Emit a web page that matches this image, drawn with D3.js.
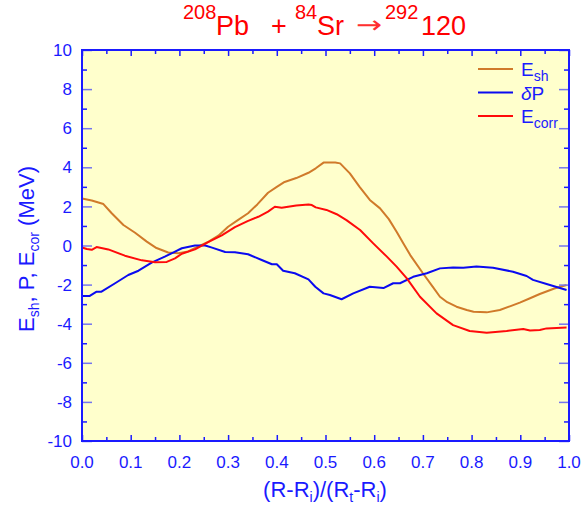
<!DOCTYPE html>
<html>
<head>
<meta charset="utf-8">
<script src="https://cdn.jsdelivr.net/npm/d3@7"></script>
<style>
    body { margin: 0; background: #ffffff; }
    svg { display: block; font-family: "Liberation Sans", Arial, sans-serif; }
</style>
</head>
<body>
<svg id="chart" width="581" height="506"></svg>
<script>
// curves: [x, MeV]
const esh_points = [
    [0, 2.4], [0.02, 2.3], [0.044, 2.12], [0.061, 1.65], [0.085, 1.05], [0.109, 0.65],
    [0.133, 0.2], [0.153, -0.13], [0.177, -0.36], [0.198, -0.4], [0.218, -0.3], [0.239, -0.05],
    [0.26, 0.2], [0.28, 0.5], [0.30, 0.96], [0.32, 1.3], [0.341, 1.65], [0.36, 2.1],
    [0.382, 2.7], [0.40, 3.0], [0.416, 3.25], [0.44, 3.45], [0.465, 3.72], [0.48, 3.95],
    [0.496, 4.24], [0.52, 4.25], [0.53, 4.2], [0.55, 3.69], [0.57, 3.0], [0.591, 2.33],
    [0.612, 1.9], [0.63, 1.35], [0.646, 0.7], [0.66, 0.1], [0.674, -0.49], [0.70, -1.42],
    [0.72, -2.1], [0.735, -2.62], [0.75, -2.9], [0.769, -3.13], [0.79, -3.3], [0.804, -3.39],
    [0.831, -3.42], [0.858, -3.3], [0.88, -3.1], [0.899, -2.92], [0.92, -2.7], [0.94, -2.48],
    [0.97, -2.2], [0.995, -2.02]
];

const dp_points = [
    [0, -2.58], [0.016, -2.58], [0.03, -2.36], [0.04, -2.36], [0.068, -1.93], [0.095, -1.51],
    [0.116, -1.29], [0.143, -0.88], [0.17, -0.57], [0.188, -0.35], [0.205, -0.14], [0.232, 0],
    [0.253, 0], [0.267, -0.11], [0.294, -0.33], [0.314, -0.35], [0.341, -0.45], [0.369, -0.74],
    [0.39, -0.96], [0.4, -0.96], [0.413, -1.29], [0.437, -1.42], [0.465, -1.73], [0.479, -2.11],
    [0.496, -2.45], [0.509, -2.53], [0.533, -2.75], [0.557, -2.45], [0.591, -2.11], [0.619, -2.18],
    [0.639, -1.93], [0.653, -1.93], [0.68, -1.6], [0.708, -1.42], [0.735, -1.17], [0.762, -1.12],
    [0.783, -1.14], [0.81, -1.08], [0.844, -1.14], [0.885, -1.34], [0.913, -1.56], [0.926, -1.76],
    [0.954, -1.97], [0.995, -2.28]
];

const ecorr_points = [
    [0, -0.1], [0.01, -0.18], [0.02, -0.22], [0.03, -0.08], [0.054, -0.2], [0.088, -0.52],
    [0.123, -0.76], [0.15, -0.86], [0.174, -0.84], [0.191, -0.66], [0.205, -0.42], [0.232, -0.2],
    [0.26, 0.18], [0.287, 0.52], [0.314, 0.94], [0.34, 1.25], [0.362, 1.47], [0.382, 1.73],
    [0.396, 1.98], [0.41, 1.93], [0.44, 2.05], [0.465, 2.1], [0.472, 2.07], [0.48, 1.95],
    [0.502, 1.82], [0.523, 1.6], [0.543, 1.3], [0.571, 0.79], [0.598, 0.11], [0.626, -0.57],
    [0.646, -1.08], [0.667, -1.68], [0.694, -2.62], [0.728, -3.47], [0.762, -4.07], [0.796, -4.37],
    [0.831, -4.46], [0.872, -4.37], [0.906, -4.27], [0.92, -4.35], [0.94, -4.32], [0.954, -4.24],
    [0.995, -4.2]
];

const x_ticks = [0, 0.1, 0.2, 0.3, 0.4, 0.5, 0.6, 0.7, 0.8, 0.9, 1.0];
const x_minor_ticks = [0.05, 0.15, 0.25, 0.35, 0.45, 0.55, 0.65, 0.75, 0.85, 0.95];
const y_ticks = [-10, -8, -6, -4, -2, 0, 2, 4, 6, 8, 10];
const y_minor_ticks = [-9, -7, -5, -3, -1, 1, 3, 5, 7, 9];

const series = [
    { name: "E", sub: "sh", italic: false, color: "#d07a2a", points: esh_points },
    { name: "\u03b4P", sub: "", italic: true, color: "#0a0af0", points: dp_points },
    { name: "E", sub: "corr", italic: false, color: "#ff0a0a", points: ecorr_points }
];

const blue = "#1a1aff";
const plot_left = 82, plot_right = 569, plot_top = 50, plot_bottom = 441;

let svg = d3.select("#chart");

let x = d3.scaleLinear().domain([0, 1]).range([plot_left, plot_right]);
let y = d3.scaleLinear().domain([-10, 10]).range([plot_bottom, plot_top]);

svg.append("rect")
    .attr("x", plot_left).attr("y", plot_top)
    .attr("width", plot_right - plot_left).attr("height", plot_bottom - plot_top)
    .attr("fill", "#ffffcc");

// curves
let line = d3.line()
    .x(d => x(d[0]))
    .y(d => y(d[1]));

svg.append("g")
    .selectAll("path")
    .data(series)
    .join("path")
    .attr("d", d => line(d.points))
    .attr("fill", "none")
    .attr("stroke", d => d.color)
    .attr("stroke-width", 2)
    .attr("stroke-linejoin", "round");

// axes: ticks pointing inward on all four sides
function add_axis(axis, transform, cls) {
    let g = svg.append("g")
        .attr("class", cls)
        .attr("transform", transform)
        .call(axis);
    g.select(".domain").remove();
    g.selectAll("line").attr("stroke", blue).attr("stroke-width", 1.5);
    g.selectAll("text").remove();
    return g;
}

add_axis(d3.axisBottom(x).tickValues(x_ticks).tickSize(-6), `translate(0,${plot_bottom})`, "xb");
add_axis(d3.axisBottom(x).tickValues(x_minor_ticks).tickSize(-4), `translate(0,${plot_bottom})`, "xb2");
add_axis(d3.axisTop(x).tickValues(x_ticks).tickSize(-6), `translate(0,${plot_top})`, "xt");
add_axis(d3.axisTop(x).tickValues(x_minor_ticks).tickSize(-4), `translate(0,${plot_top})`, "xt2");

add_axis(d3.axisLeft(y).tickValues(y_ticks).tickSize(-10), `translate(${plot_left},0)`, "yl")
    .selectAll("line").attr("stroke", "#7474ee");
add_axis(d3.axisLeft(y).tickValues(y_minor_ticks).tickSize(-5), `translate(${plot_left},0)`, "yl2");
add_axis(d3.axisRight(y).tickValues(y_ticks).tickSize(-10), `translate(${plot_right},0)`, "yr")
    .selectAll("line").attr("stroke", "#7474ee");
add_axis(d3.axisRight(y).tickValues(y_minor_ticks).tickSize(-5), `translate(${plot_right},0)`, "yr2");

svg.append("rect")
    .attr("x", plot_left).attr("y", plot_top)
    .attr("width", plot_right - plot_left).attr("height", plot_bottom - plot_top)
    .attr("fill", "none")
    .attr("stroke", blue)
    .attr("stroke-width", 2);

// tick labels
svg.append("g")
    .selectAll("text")
    .data(x_ticks)
    .join("text")
    .attr("x", d => x(d))
    .attr("y", 468)
    .attr("text-anchor", "middle")
    .attr("font-size", 17)
    .attr("fill", blue)
    .text(d => d3.format(".1f")(d));

svg.append("g")
    .selectAll("text")
    .data(y_ticks)
    .join("text")
    .attr("x", 72)
    .attr("y", d => y(d))
    .attr("dy", "0.36em")
    .attr("text-anchor", "end")
    .attr("font-size", 17)
    .attr("fill", blue)
    .text(d => d);

// axis titles
let x_title = svg.append("text")
    .attr("x", 325)
    .attr("y", 497)
    .attr("text-anchor", "middle")
    .attr("font-size", 22)
    .attr("fill", blue);
x_title.append("tspan").text("(R-R");
x_title.append("tspan").attr("font-size", 14).attr("dy", 5).text("i");
x_title.append("tspan").attr("dy", -5).text(")/(R");
x_title.append("tspan").attr("font-size", 14).attr("dy", 5).text("t");
x_title.append("tspan").attr("dy", -5).text("-R");
x_title.append("tspan").attr("font-size", 14).attr("dy", 5).text("i");
x_title.append("tspan").attr("dy", -5).text(")");

let y_title = svg.append("text")
    .attr("transform", "translate(34,249) rotate(-90)")
    .attr("text-anchor", "middle")
    .attr("font-size", 22)
    .attr("fill", blue);
y_title.append("tspan").text("E");
y_title.append("tspan").attr("font-size", 14).attr("dy", 5).text("sh");
y_title.append("tspan").attr("dy", -5).text(", P, E");
y_title.append("tspan").attr("font-size", 14).attr("dy", 5).text("cor");
y_title.append("tspan").attr("dy", -5).text(" (MeV)");

// title
let title = svg.append("text")
    .attr("y", 35)
    .attr("font-size", 27)
    .attr("fill", "#ff0000");
title.append("tspan").attr("x", 183).attr("font-size", 20).attr("dy", -16).text("208");
title.append("tspan").attr("x", 216).attr("dy", 16).text("Pb");
title.append("tspan").attr("x", 271).text("+");
title.append("tspan").attr("x", 295).attr("font-size", 20).attr("dy", -16).text("84");
title.append("tspan").attr("x", 317).attr("dy", 16).text("Sr");
title.append("tspan").attr("x", 385).attr("font-size", 20).attr("dy", -16).text("292");
title.append("tspan").attr("x", 421).attr("dy", 16).text("120");

// thin long arrow of the title
svg.append("text")
    .attr("transform", "translate(356,33) scale(1.3,1)")
    .attr("font-family", "DejaVu Sans")
    .attr("font-size", 24)
    .attr("fill", "#ff3030")
    .text("\u2192");

// legend
let legend = svg.append("g")
    .selectAll("g")
    .data(series)
    .join("g")
    .attr("transform", (d, i) => `translate(0,${69 + i * 23.5})`);

legend.append("line")
    .attr("x1", 478).attr("x2", 513)
    .attr("stroke", d => d.color)
    .attr("stroke-width", 2);

let legend_text = legend.append("text")
    .attr("x", 521)
    .attr("y", 7)
    .attr("font-size", 19)
    .attr("fill", blue);
legend_text.each(function (d) {
    let t = d3.select(this);
    if (d.italic) {
        t.append("tspan").attr("font-style", "italic").text("\u03b4");
        t.append("tspan").text("P");
    } else {
        t.append("tspan").text(d.name);
        t.append("tspan").attr("font-size", 14).attr("dy", 5).text(d.sub);
    }
});
</script>
</body>
</html>
